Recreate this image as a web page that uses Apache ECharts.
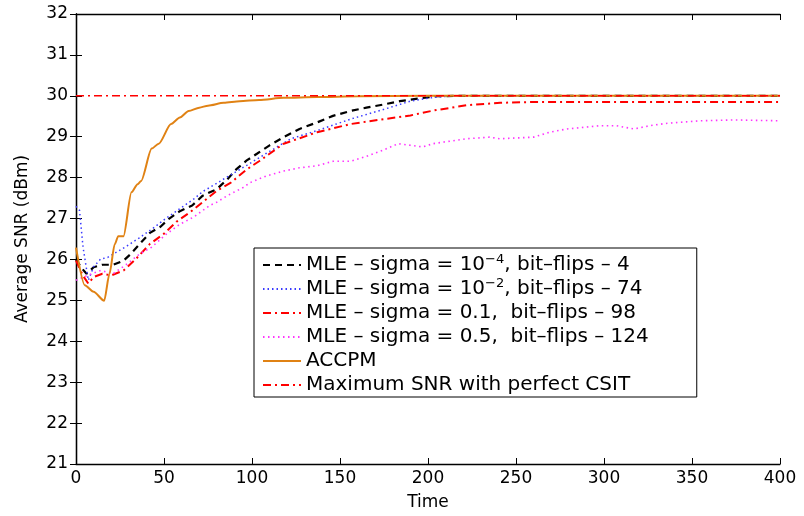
<!DOCTYPE html>
<html>
<head>
<meta charset="utf-8">
<script src="https://cdn.jsdelivr.net/npm/echarts@6/dist/echarts.min.js"></script>
<style>html,body{margin:0;padding:0;background:#fff}#c{width:804px;height:516px}</style>
</head>
<body>
<div id="c"></div>
<script>
// ---- data (time, average SNR in dBm) ----
const xTicks = [0, 50, 100, 150, 200, 250, 300, 350, 400];
const yTicks = [21, 22, 23, 24, 25, 26, 27, 28, 29, 30, 31, 32];

const mle1e4 = [[0,26.0],[3,25.8],[6,25.65],[10,25.81],[15,25.87],[21,25.87],[27,25.97],[31,26.13],[36,26.37],[42,26.65],[48,26.8],[53,27.0],[59,27.18],[66,27.32],[72,27.56],[80,27.72],[86,27.96],[91,28.2],[97,28.42],[103,28.59],[110,28.79],[118,28.99],[127,29.19],[137,29.35],[146,29.51],[156,29.63],[165,29.71],[175,29.79],[184,29.87],[194,29.93],[205,29.99],[220,30.0],[400,30.0]];
const mle1e2 = [[0,27.3],[2,27.2],[4,26.3],[7,25.49],[10,25.82],[14,26.01],[18,26.05],[23,26.18],[29,26.33],[36,26.53],[44,26.77],[51,27.0],[59,27.24],[67,27.48],[72,27.66],[80,27.86],[86,28.02],[97,28.3],[108,28.59],[122,28.95],[137,29.15],[156,29.43],[175,29.67],[190,29.87],[203,29.96],[215,30.0],[400,30.0]];
const mle01 = [[0,25.97],[4,25.6],[7,25.41],[10,25.57],[15,25.65],[20,25.61],[27,25.73],[34,26.01],[42,26.38],[50,26.63],[57,26.92],[65,27.16],[72,27.4],[80,27.68],[88,27.88],[97,28.2],[104,28.4],[118,28.83],[137,29.11],[156,29.31],[175,29.43],[190,29.52],[203,29.64],[222,29.77],[241,29.83],[260,29.85],[400,29.85]];
const mle05 = [[0,25.49],[6,25.6],[14,25.73],[21,25.65],[29,25.89],[36,26.13],[43,26.3],[51,26.61],[59,26.86],[67,27.04],[76,27.32],[80,27.4],[86,27.56],[95,27.76],[99,27.88],[108,28.04],[118,28.16],[127,28.24],[137,28.29],[146,28.4],[156,28.4],[165,28.52],[175,28.68],[183,28.83],[190,28.79],[197,28.75],[203,28.83],[209,28.87],[222,28.95],[235,28.99],[241,28.95],[260,28.99],[269,29.11],[279,29.19],[298,29.27],[307,29.27],[317,29.19],[326,29.27],[336,29.33],[355,29.39],[374,29.41],[400,29.39]];
const accpm = [[0,26.29],[5,25.37],[10,25.21],[16,24.99],[19,25.65],[22,26.37],[24,26.57],[27,26.57],[31.5,27.64],[35,27.84],[37,27.92],[43,28.71],[47,28.83],[54,29.31],[59,29.47],[64,29.63],[70,29.71],[75,29.76],[84,29.83],[93,29.87],[104,29.9],[118,29.95],[137,29.97],[160,29.99],[200,30.0],[400,30.0]];
const maxSnr = [[0,30],[400,30]];

const legendLabels = {
  m1: 'MLE \u2013 sigma = 10{sup|\u22124}, bit\u2013flips \u2013 4',
  m2: 'MLE \u2013 sigma = 10{sup|\u22122}, bit\u2013flips \u2013 74',
  m3: 'MLE \u2013 sigma = 0.1,  bit\u2013flips \u2013 98',
  m4: 'MLE \u2013 sigma = 0.5,  bit\u2013flips \u2013 124',
  m5: 'ACCPM',
  m6: 'Maximum SNR with perfect CSIT'
};

const FONT = 'DejaVu Sans';
const chart = echarts.init(document.getElementById('c'), null, {renderer: 'canvas'});

function line(name, data, color, width, type, smooth) {
  return {
    name: name, type: 'line', data: data, showSymbol: false, symbol: 'none',
    smooth: smooth || false, smoothMonotone: 'x',
    lineStyle: {color: color, width: width, type: type},
    itemStyle: {color: color}
  };
}

const axisCommon = {
  axisLine: {show: true, lineStyle: {color: '#000', width: 1.3}},
  axisTick: {show: true, inside: true, length: 6, lineStyle: {color: '#000', width: 1}},
  splitLine: {show: false}
};

chart.setOption({
  animation: false,
  backgroundColor: '#fff',
  grid: {left: 76, right: 24, top: 14, bottom: 41, containLabel: false},
  xAxis: [
    Object.assign({type: 'value', min: 0, max: 400, interval: 50, position: 'bottom',
      name: 'Time', nameLocation: 'middle', nameGap: 30,
      nameTextStyle: {fontFamily: FONT, fontSize: 17, color: '#000'},
      axisLabel: {fontFamily: FONT, fontSize: 17, color: '#000', margin: 6,
        formatter: v => xTicks.includes(v) ? String(v) : ''}}, axisCommon),
    Object.assign({type: 'value', min: 0, max: 400, interval: 50, position: 'top',
      axisLabel: {show: false}}, axisCommon)
  ],
  yAxis: [
    Object.assign({type: 'value', min: 21, max: 32, interval: 1, position: 'left',
      name: 'Average SNR (dBm)', nameLocation: 'middle', nameGap: 45,
      nameTextStyle: {fontFamily: FONT, fontSize: 17, color: '#000'},
      axisLabel: {fontFamily: FONT, fontSize: 17, color: '#000', margin: 8,
        formatter: v => yTicks.includes(v) ? String(v) : ''}}, axisCommon),
    Object.assign({type: 'value', min: 21, max: 32, interval: 1, position: 'right',
      axisLabel: {show: false}}, axisCommon)
  ],
  legend: {
    orient: 'vertical', left: 254, top: 248,
    backgroundColor: '#fff', borderColor: '#000', borderWidth: 1,
    padding: [5, 48, 0, 8], itemGap: 0, itemWidth: 38, itemHeight: 12,
    itemStyle: {opacity: 0, borderWidth: 0},
    data: ['m1','m2','m3','m4','m5','m6'],
    formatter: n => legendLabels[n],
    textStyle: {fontFamily: FONT, fontSize: 20, color: '#000', lineHeight: 24,
      rich: {sup: {fontFamily: FONT, fontSize: 13, color: '#000', verticalAlign: 'top', lineHeight: 12}}}
  },
  series: [
    line('m1', mle1e4, '#000000', 2.2, [7, 5]),
    line('m2', mle1e2, '#3a3aff', 1.5, [1.5, 3]),
    line('m3', mle01, '#ff0000', 2, [8, 4, 2, 4]),
    line('m4', mle05, '#ff33ff', 1.6, [1.5, 3.5]),
    line('m5', accpm, '#e08214', 2, 'solid', 0.25),
    line('m6', maxSnr, '#ff0000', 1.5, [8, 4, 2, 4])
  ]
});
</script>
</body>
</html>
